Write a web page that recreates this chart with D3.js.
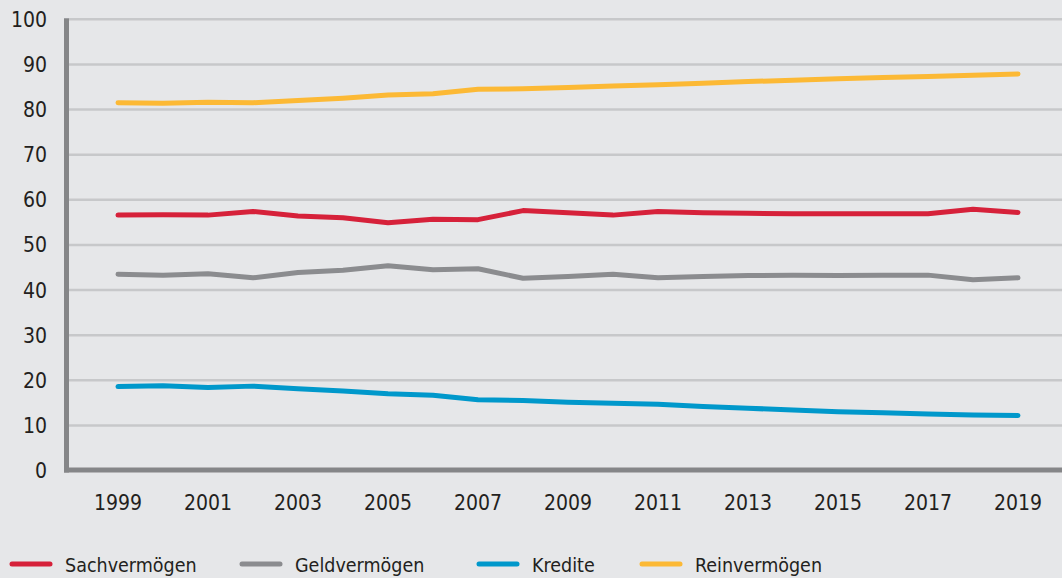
<!DOCTYPE html>
<html>
<head>
<meta charset="utf-8">
<script src="https://cdn.jsdelivr.net/npm/d3@7"></script>
<style>
  html, body { margin: 0; padding: 0; background: #e6e7e9; }
  svg { display: block; }
  .tick-label { font-family: "DejaVu Sans Condensed", "DejaVu Sans", sans-serif; font-stretch: condensed; font-size: 21px; fill: #231f20; }
  .legend-label { font-family: "DejaVu Sans Condensed", "DejaVu Sans", sans-serif; font-stretch: condensed; font-size: 19.5px; fill: #231f20; }
</style>
</head>
<body>
<div id="chart"></div>
<script>
const years = d3.range(1999, 2020)
const yTicks = [0, 10, 20, 30, 40, 50, 60, 70, 80, 90, 100]
const xTicks = [1999, 2001, 2003, 2005, 2007, 2009, 2011, 2013, 2015, 2017, 2019]

const sachvermoegen = [56.6, 56.7, 56.6, 57.4, 56.4, 56.0, 54.9, 55.7, 55.6, 57.6, 57.1, 56.6, 57.4, 57.1, 57.0, 56.9, 56.9, 56.9, 56.9, 57.9, 57.2]
const geldvermoegen = [43.5, 43.3, 43.6, 42.7, 43.9, 44.4, 45.4, 44.5, 44.7, 42.6, 43.0, 43.5, 42.7, 43.0, 43.2, 43.3, 43.2, 43.3, 43.3, 42.3, 42.7]
const kredite = [18.6, 18.8, 18.4, 18.7, 18.1, 17.6, 17.0, 16.7, 15.7, 15.5, 15.1, 14.9, 14.7, 14.2, 13.8, 13.4, 13.0, 12.8, 12.5, 12.3, 12.2]
const reinvermoegen = [81.5, 81.4, 81.6, 81.5, 82.0, 82.5, 83.2, 83.5, 84.5, 84.6, 84.9, 85.2, 85.5, 85.8, 86.2, 86.5, 86.8, 87.1, 87.3, 87.6, 87.9]

const seriesNames = ["Sachvermögen", "Geldvermögen", "Kredite", "Reinvermögen"]
const seriesValues = [sachvermoegen, geldvermoegen, kredite, reinvermoegen]
const seriesColors = ["#d6213a", "#8b8c8f", "#0098cb", "#fcb935"]

const width = 1062, height = 578

const svg = d3.select("#chart").append("svg")
    .attr("width", width)
    .attr("height", height)

svg.append("rect").attr("width", width).attr("height", height).attr("fill", "#e6e7e9")

const x = d3.scaleLinear().domain([1999, 2019]).range([118, 1018])
const y = d3.scaleLinear().domain([0, 100]).range([470.5, 19.3])

// horizontal grid
svg.append("g")
    .selectAll("line")
    .data(yTicks.filter(d => d > 0))
    .join("line")
    .attr("x1", 69)
    .attr("x2", width)
    .attr("y1", d => y(d))
    .attr("y2", d => y(d))
    .attr("stroke", "#c7c8ca")
    .attr("stroke-width", 2.5)

// y tick labels
svg.append("g")
    .selectAll("text")
    .data(yTicks)
    .join("text")
    .attr("class", "tick-label")
    .attr("x", 47)
    .attr("y", d => y(d))
    .attr("dy", "0.36em")
    .attr("text-anchor", "end")
    .text(d => d)

// x tick labels
svg.append("g")
    .selectAll("text")
    .data(xTicks)
    .join("text")
    .attr("class", "tick-label")
    .attr("x", d => x(d))
    .attr("y", 510)
    .attr("text-anchor", "middle")
    .text(d => d)

// axes
svg.append("line")
    .attr("x1", 66.5).attr("x2", 66.5)
    .attr("y1", 18.3).attr("y2", 472.5)
    .attr("stroke", "#858688").attr("stroke-width", 5)

svg.append("line")
    .attr("x1", 64).attr("x2", width)
    .attr("y1", 470).attr("y2", 470)
    .attr("stroke", "#858688").attr("stroke-width", 5)

// series lines
const line = d3.line()
    .x((d, i) => x(years[i]))
    .y(d => y(d))

seriesValues.forEach((values, i) => {
    svg.append("path")
        .datum(values)
        .attr("d", line)
        .attr("fill", "none")
        .attr("stroke", seriesColors[i])
        .attr("stroke-width", 5)
        .attr("stroke-linecap", "round")
        .attr("stroke-linejoin", "round")
})

// legend
const legendX = [10, 240, 477, 640]
const legend = svg.append("g")
    .selectAll("g")
    .data(seriesNames)
    .join("g")
    .attr("transform", (d, i) => `translate(${legendX[i]}, 564)`)

legend.append("line")
    .attr("x1", 2).attr("x2", 40)
    .attr("stroke", (d, i) => seriesColors[i])
    .attr("stroke-width", 5)
    .attr("stroke-linecap", "round")

legend.append("text")
    .attr("class", "legend-label")
    .attr("x", 55)
    .attr("y", 8)
    .text(d => d)
</script>
</body>
</html>
